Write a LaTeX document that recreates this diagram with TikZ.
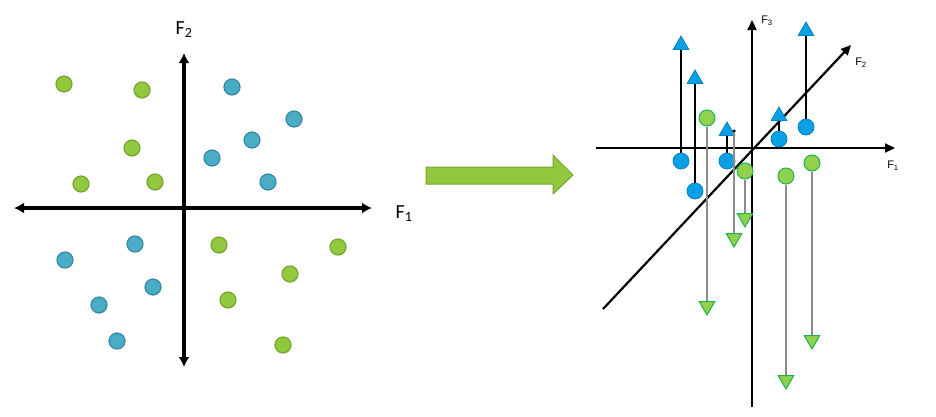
\documentclass[tikz,border=0pt]{standalone}
\usepackage{fontspec}
\setmainfont{Carlito}
\newfontfamily\axisfont{Liberation Sans}
\usetikzlibrary{arrows.meta,shapes.geometric}
\definecolor{leafgreen}{HTML}{92C83E}
\definecolor{leafedge}{HTML}{74A62E}
\definecolor{tealdot}{HTML}{4BACC6}
\definecolor{tealedge}{HTML}{3489A3}
\definecolor{skyblue}{HTML}{0AA0E6}
\definecolor{skyedge}{HTML}{0780C0}
\definecolor{limegreen}{HTML}{92D050}
\definecolor{limeedge}{HTML}{1DB34A}
\begin{document}
\begin{tikzpicture}[x=1pt,y=-1pt,
    gdot/.style={circle,draw=leafedge,fill=leafgreen,line width=1.2pt,minimum size=16pt,inner sep=0pt},
    bdot/.style={circle,draw=tealedge,fill=tealdot,line width=1.2pt,minimum size=16pt,inner sep=0pt},
    pdot/.style={circle,draw=skyedge,fill=skyblue,line width=0.8pt,minimum size=16pt,inner sep=0pt},
    qdot/.style={circle,draw=limeedge,fill=limegreen,line width=1pt,minimum size=16pt,inner sep=0pt},
    uptri/.style={regular polygon,regular polygon sides=3,draw=skyedge,fill=skyblue,line width=0.8pt,minimum size=18pt,inner sep=0pt},
    downtri/.style={regular polygon,regular polygon sides=3,shape border rotate=180,draw=limeedge,fill=limegreen,line width=1pt,minimum size=18pt,inner sep=0pt},
    bigaxis/.style={line width=3.8pt,{Latex[length=10pt,width=11pt]}-{Latex[length=10pt,width=11pt]}},
    smallaxis/.style={line width=2.2pt,-{Triangle[length=10pt,width=9pt]}},
    upline/.style={black,line width=1.4pt},
    downline/.style={black!45,line width=1.4pt}]
    \useasboundingbox (0,0) rectangle (936,416);

    % left: data in the F1-F2 plane
    \coordinate (west) at (14,208);
    \coordinate (east) at (372,208);
    \coordinate (north) at (184,53);
    \coordinate (south) at (184,367);
    \draw [bigaxis] (west) -- (east);
    \draw [bigaxis] (south) -- (north);
    \node (f1) at (404,214) {\fontsize{20}{24}\selectfont F\textsubscript{1}};
    \node (f2) at (184,30) {\fontsize{20}{24}\selectfont F\textsubscript{2}};

    \node [gdot] (g1) at (64,84) {};
    \node [gdot] (g2) at (142,90) {};
    \node [gdot] (g3) at (132,148) {};
    \node [gdot] (g4) at (81,184) {};
    \node [gdot] (g5) at (155,182) {};
    \node [gdot] (g6) at (219,245) {};
    \node [gdot] (g7) at (338,247) {};
    \node [gdot] (g8) at (290,274) {};
    \node [gdot] (g9) at (228,300) {};
    \node [gdot] (g10) at (283,345) {};

    \node [bdot] (b1) at (232,87) {};
    \node [bdot] (b2) at (294,119) {};
    \node [bdot] (b3) at (252,140) {};
    \node [bdot] (b4) at (212,158) {};
    \node [bdot] (b5) at (268,182) {};
    \node [bdot] (b6) at (135,244) {};
    \node [bdot] (b7) at (65,260) {};
    \node [bdot] (b8) at (153,287) {};
    \node [bdot] (b9) at (99,305) {};
    \node [bdot] (b10) at (117,341) {};

    % the map
    \fill [leafgreen,draw=leafedge,line width=1pt]
        (426,167) -- (553,167) -- (553,155) -- (573,175) -- (553,194) -- (553,184) -- (426,184) -- cycle;

    % right: lifted into F3
    \coordinate (left) at (596,148);
    \coordinate (right) at (895,148);
    \coordinate (top) at (752,20);
    \coordinate (bottom) at (752,407);
    \coordinate (back) at (603,309);
    \coordinate (front) at (851,45);
    \draw [smallaxis] (left) -- (right);
    \draw [smallaxis] (bottom) -- (top);
    \draw [smallaxis] (back) -- (front);
    \node (a1) at (893,166) {\axisfont\fontsize{11}{13}\selectfont F\textsubscript{1}};
    \node (a2) at (861,63) {\axisfont\fontsize{11}{13}\selectfont F\textsubscript{2}};
    \node (a3) at (767,21) {\axisfont\fontsize{11}{13}\selectfont F\textsubscript{3}};

    \node [pdot] (p1) at (681,161) {};
    \node [pdot] (p2) at (695,191) {};
    \node [pdot] (p3) at (727,161) {};
    \node [pdot] (p4) at (779,139) {};
    \node [pdot] (p5) at (806,127) {};
    \node [uptri] (t1) at (681,45) {};
    \node [uptri] (t2) at (695,79) {};
    \node [uptri] (t3) at (727,131) {};
    \node [uptri] (t4) at (779,116) {};
    \node [uptri] (t5) at (806,31) {};
    \draw [upline] (p1) -- (t1);
    \draw [upline] (p2) -- (t2);
    \draw [upline] (p3) -- (t3);
    \draw [upline] (p4) -- (t4);
    \draw [upline] (p5) -- (t5);

    \node [qdot] (q1) at (707,118) {};
    \node [circle,fill=black,inner sep=0pt,minimum size=3.5pt] (q2) at (734,131) {};
    \node [qdot] (q3) at (745,171) {};
    \node [qdot] (q4) at (786,176) {};
    \node [qdot] (q5) at (812,163) {};
    \node [downtri] (d1) at (707,306) {};
    \node [downtri] (d2) at (734,238) {};
    \node [downtri] (d3) at (745,218) {};
    \node [downtri] (d4) at (786,380) {};
    \node [downtri] (d5) at (812,340) {};
    \draw [downline] (q1) -- (d1);
    \draw [downline] (q2) -- (d2);
    \draw [downline] (q3) -- (d3);
    \draw [downline] (q4) -- (d4);
    \draw [downline] (q5) -- (d5);
\end{tikzpicture}
\end{document}
